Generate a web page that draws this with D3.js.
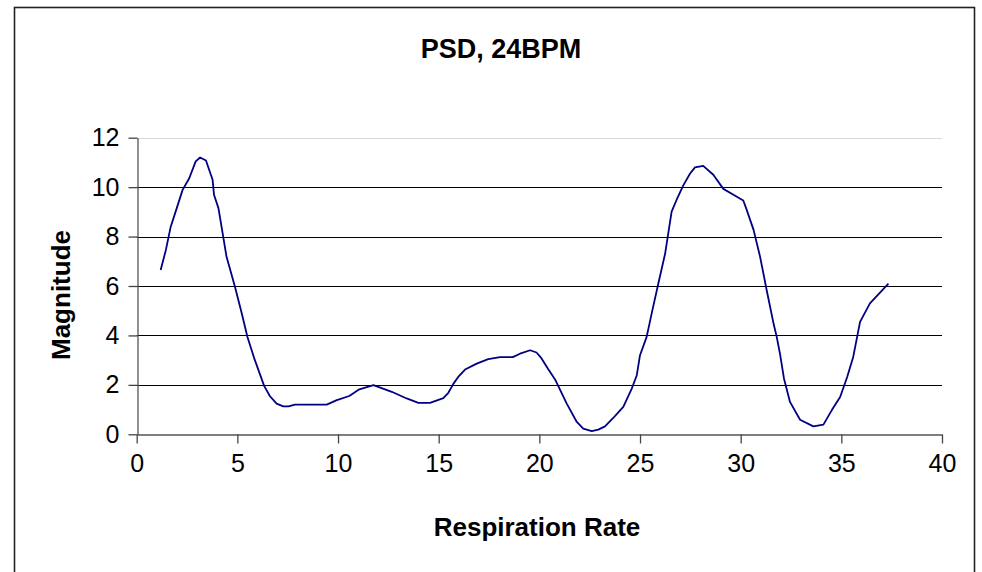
<!DOCTYPE html>
<html><head><meta charset="utf-8">
<script src="https://cdn.jsdelivr.net/npm/d3@7"></script>
<style>body{margin:0;background:#fff}svg{display:block}text{font-family:"Liberation Sans",Arial,sans-serif}</style>
</head><body>
<script>
const freq = [1.19,1.45,1.69,1.99,2.28,2.61,2.93,3.15,3.44,3.77,3.84,4.06,4.27,4.46,4.88,5.22,5.5,5.87,6.33,6.62,6.95,7.28,7.54,7.86,9.44,9.94,10.56,11.06,11.76,12.67,13.41,13.99,14.57,15.23,15.48,15.72,15.97,16.31,16.89,17.46,18.05,18.68,19.04,19.54,19.86,20.11,20.42,20.78,21.36,21.86,22.18,22.6,22.93,23.26,23.67,24.01,24.17,24.59,24.84,25.0,25.33,25.58,25.91,26.25,26.57,26.82,27.15,27.48,27.73,28.14,28.64,29.14,29.64,30.13,30.3,30.64,30.96,31.29,31.63,31.79,31.95,32.15,32.45,32.95,33.61,34.11,34.52,34.94,35.29,35.59,35.93,36.42,37.34];
const magnitude = [6.65,7.46,8.4,9.15,9.89,10.36,11.04,11.2,11.08,10.3,9.69,9.15,8.13,7.19,5.97,4.89,3.94,3.0,1.96,1.54,1.24,1.13,1.13,1.2,1.2,1.38,1.55,1.82,1.99,1.72,1.45,1.27,1.27,1.46,1.68,2.03,2.32,2.62,2.86,3.04,3.12,3.12,3.26,3.40,3.31,3.07,2.66,2.22,1.24,0.5,0.23,0.13,0.19,0.32,0.66,0.97,1.11,1.85,2.39,3.2,3.94,4.89,6.1,7.32,9.01,9.49,10.07,10.54,10.8,10.86,10.5,9.93,9.69,9.46,9.08,8.27,7.2,5.84,4.49,3.94,3.27,2.26,1.31,0.59,0.32,0.39,0.97,1.51,2.32,3.13,4.55,5.3,6.1];
const xTicks = [0,5,10,15,20,25,30,35,40];
const yTicks = [0,2,4,6,8,10,12];
const title = "PSD, 24BPM";
const xTitle = "Respiration Rate";
const yTitle = "Magnitude";

const W = 982, H = 572;
const svg = d3.select("body").append("svg").attr("width", W).attr("height", H);
// outer frame
svg.append("rect").attr("x", 14.5).attr("y", 7.5).attr("width", 960).attr("height", 580)
  .attr("fill", "none").attr("stroke", "#222").attr("stroke-width", 1.6);

const x = d3.scaleLinear().domain([0, 40]).range([136.7, 942]);
const y = d3.scaleLinear().domain([0, 12]).range([434.3, 137.7]);

// gridlines
svg.append("g").selectAll("line").data(yTicks.filter(d => d > 0)).join("line")
  .attr("x1", x(0)).attr("x2", x(40))
  .attr("y1", d => Math.round(y(d)) + 0.5).attr("y2", d => Math.round(y(d)) + 0.5)
  .attr("stroke", d => d === 12 ? "#d8d8d8" : "#000").attr("stroke-width", 1);

const xAxis = svg.append("g").attr("transform", `translate(0,${Math.round(y(0)) + 0.5})`)
  .call(d3.axisBottom(x).tickValues(xTicks).tickSize(9).tickSizeOuter(0));
const yAxis = svg.append("g").attr("transform", `translate(${Math.round(x(0)) + 0.5},0)`)
  .call(d3.axisLeft(y).tickValues(yTicks).tickSize(9).tickSizeOuter(0).tickPadding(9));
[xAxis, yAxis].forEach(g => {
  g.select(".domain").attr("stroke", "#555").attr("stroke-width", 1.3);
  g.selectAll(".tick line").attr("stroke", "#444").attr("stroke-width", 1.3);
  g.selectAll(".tick text").attr("fill", "#000").style("font-size", "25px")
    .style("font-family", '"Liberation Sans", Arial, sans-serif');
});
xAxis.selectAll(".tick text").attr("y", 37.5).attr("dy", 0);

const line = d3.line().x((d, i) => x(freq[i])).y(d => y(d)).curve(d3.curveLinear);
svg.append("path").datum(magnitude).attr("d", line)
  .attr("fill", "none").attr("stroke", "#000080").attr("stroke-width", 1.8)
  .attr("stroke-linejoin", "round");

svg.append("text").attr("x", 501).attr("y", 58).attr("text-anchor", "middle")
  .style("font-size", "27px").style("font-weight", "bold").text(title);
svg.append("text").attr("x", 537).attr("y", 536).attr("text-anchor", "middle")
  .style("font-size", "26px").style("font-weight", "bold").text(xTitle);
svg.append("text").attr("transform", "translate(70,295) rotate(-90)").attr("text-anchor", "middle")
  .style("font-size", "26px").style("font-weight", "bold").text(yTitle);
</script>
</body></html>
